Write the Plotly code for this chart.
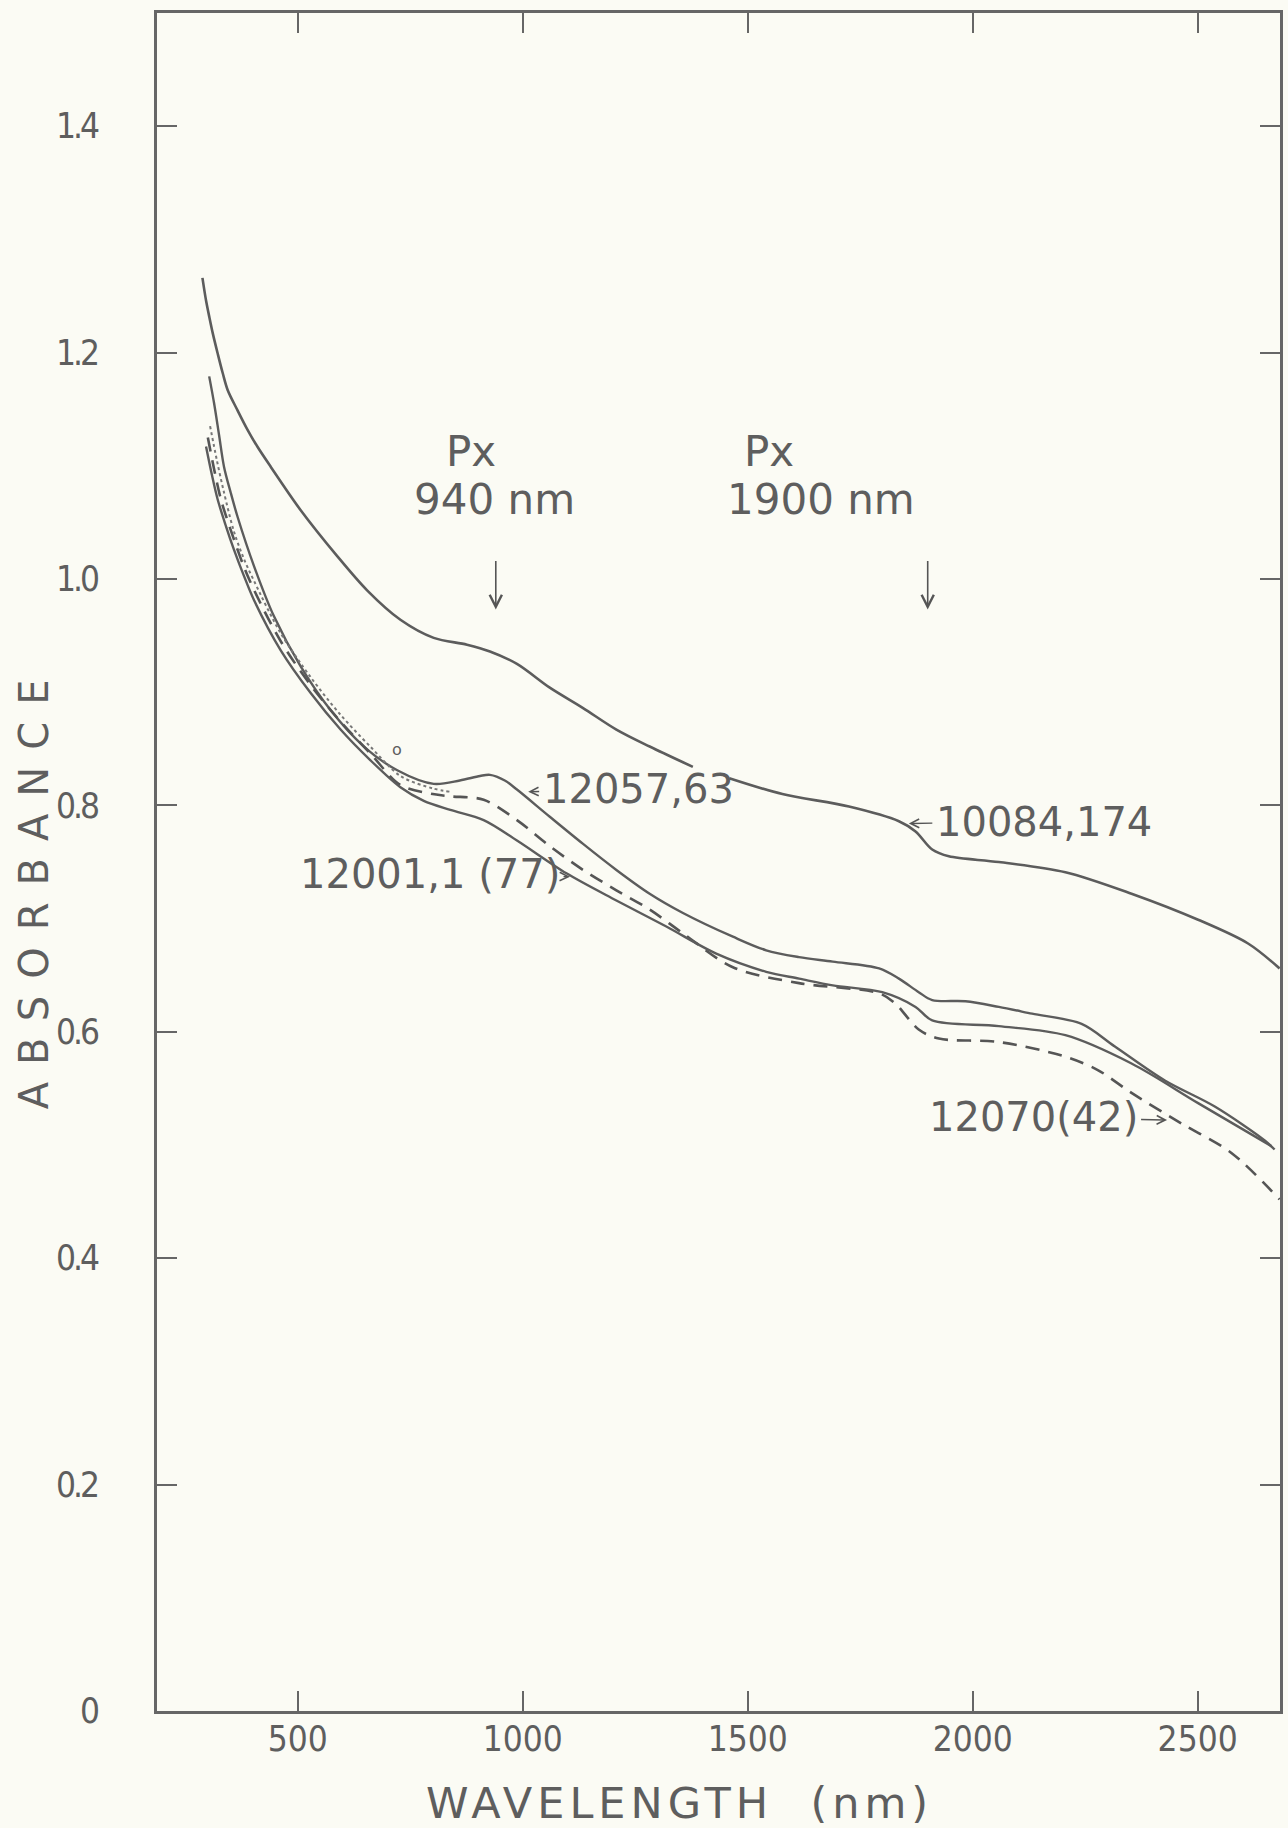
import plotly.graph_objects as go

# ---- data (wavelength nm, absorbance) ----
wl_10084 = [288, 296, 303, 311, 322, 333, 344, 366, 388, 410, 440, 506, 588, 654, 728, 802, 876, 927, 987, 1060,
            1134, 1208, 1282, 1378, None, 1459, 1577, 1725, 1836, 1873, 1910, 1947, 2058, 2206, 2353, 2501,
            2612, 2682]
ab_10084 = [1.266, 1.246, 1.232, 1.217, 1.199, 1.182, 1.167, 1.149, 1.132, 1.117, 1.099, 1.061, 1.020, 0.990,
            0.964, 0.948, 0.942, 0.936, 0.925, 0.904, 0.886, 0.867, 0.852, 0.834, None, 0.824, 0.810, 0.799,
            0.786, 0.777, 0.761, 0.755, 0.750, 0.741, 0.722, 0.699, 0.678, 0.656]

wl_12057 = [303, 314, 325, 336, 351, 366, 403, 447, 506, 573, 647, 721, 802, 860, 905, 927, 960, 987, 1060,
            1134, 1208, 1282, 1356, 1467, 1541, 1614, 1689, 1792, 1836, 1880, 1910, 1984, 2058, 2132, 2242,
            2316, 2427, 2538, 2649, 2671]
ab_12057 = [1.179, 1.155, 1.127, 1.099, 1.076, 1.055, 1.011, 0.967, 0.923, 0.884, 0.852, 0.831, 0.819, 0.822,
            0.826, 0.827, 0.822, 0.814, 0.790, 0.766, 0.743, 0.722, 0.705, 0.684, 0.672, 0.666, 0.662, 0.656,
            0.647, 0.635, 0.628, 0.627, 0.622, 0.616, 0.607, 0.587, 0.557, 0.534, 0.504, 0.496]

wl_12001 = [296, 309, 322, 340, 358, 380, 403, 462, 529, 595, 661, 728, 780, 839, 913, 987, 1097, 1208, 1319,
            1430, 1541, 1614, 1689, 1799, 1873, 1910, 2058, 2206, 2353, 2501, 2664]
ab_12001 = [1.117, 1.092, 1.070, 1.047, 1.026, 1.003, 0.981, 0.937, 0.899, 0.867, 0.840, 0.816, 0.804, 0.796,
            0.787, 0.769, 0.740, 0.716, 0.693, 0.669, 0.653, 0.647, 0.641, 0.635, 0.622, 0.610, 0.605, 0.597,
            0.572, 0.537, 0.499]

wl_12070 = [300, 315, 330, 358, 380, 403, 462, 529, 595, 661, 728, 800, 839, 913, 987, 1060, 1134, 1208, 1282,
            1356, 1467, 1614, 1792, 1828, 1880, 1925, 2058, 2206, 2279, 2353, 2464, 2575, 2682]
ab_12070 = [1.125, 1.095, 1.069, 1.035, 1.011, 0.990, 0.945, 0.906, 0.874, 0.846, 0.818, 0.810, 0.808, 0.805,
            0.787, 0.764, 0.743, 0.725, 0.708, 0.687, 0.657, 0.643, 0.634, 0.625, 0.602, 0.594, 0.591, 0.578,
            0.566, 0.546, 0.519, 0.493, 0.452]

wl_dot = [305, 320, 335, 358, 380, 403, 462, 529, 595, 661, 728, 800, 840]
ab_dot = [1.135, 1.105, 1.078, 1.042, 1.018, 0.998, 0.952, 0.913, 0.880, 0.852, 0.826, 0.815, 0.812]

x_ticks = [500, 1000, 1500, 2000, 2500]
x_tick_text = ["500", "1000", "1500", "2000", "2500"]
y_ticks = [0, 0.2, 0.4, 0.6, 0.8, 1.0, 1.2, 1.4]
y_tick_text = ["0", "0.2", "0.4", "0.6", "0.8", "1.0", "1.2", "1.4"]

LINE = "#5c5c5c"
TEXT = "#5e5e5e"
BG = "#fbfbf4"
FONT = "DejaVu Sans"
NARROW = "DejaVu Sans Condensed, Liberation Sans"

fig = go.Figure()
spl = dict(shape="spline", smoothing=0.9)
fig.add_trace(go.Scatter(x=wl_10084, y=ab_10084, mode="lines", name="10084,174",
                         line=dict(color=LINE, width=2.6, **spl), connectgaps=False))
fig.add_trace(go.Scatter(x=wl_12057, y=ab_12057, mode="lines", name="12057,63",
                         line=dict(color=LINE, width=2.4, **spl)))
fig.add_trace(go.Scatter(x=wl_dot, y=ab_dot, mode="lines", name="dotted",
                         line=dict(color="#777777", width=2, dash="dot", **spl)))
fig.add_trace(go.Scatter(x=wl_12070, y=ab_12070, mode="lines", name="12070(42)",
                         line=dict(color="#555555", width=2.6, dash="14px,9px", **spl)))
fig.add_trace(go.Scatter(x=wl_12001, y=ab_12001, mode="lines", name="12001,1 (77)",
                         line=dict(color=LINE, width=2.4, **spl)))

axis_common = dict(showline=True, linecolor="#666666", linewidth=3, mirror="ticks",
                   ticks="inside", ticklen=20, tickwidth=2, tickcolor="#666666",
                   showgrid=False, zeroline=False)

fig.update_xaxes(range=[187, 2683], tickvals=x_ticks, ticktext=x_tick_text,
                 tickfont=dict(family=NARROW, size=35, color=TEXT), ticklabelstandoff=-5, **axis_common)
fig.update_yaxes(range=[0, 1.5], tickvals=y_ticks,
                 ticktext=['<span style="letter-spacing:-3px">%s</span>' % t for t in y_tick_text],
                 tickfont=dict(family=NARROW, size=35, color=TEXT), ticklabelstandoff=50, **axis_common)

ann = []
# axis titles
ann.append(dict(xref="paper", yref="paper", x=0.465, y=-0.0542, xanchor="center", yanchor="middle",
                showarrow=False, text='<span style="letter-spacing:5px">WAVELENGTH  (nm)</span>',
                font=dict(family=FONT, size=43, color=TEXT)))
ann.append(dict(xref="paper", yref="paper", x=-0.110, y=0.486, xanchor="center", yanchor="middle",
                showarrow=False, textangle=-90,
                text='<span style="letter-spacing:17px">ABSORBANCE</span>',
                font=dict(family=FONT, size=40, color=TEXT)))
# Px labels
for tx, xx, yy in [("Px", 885, 1.113), ("940 nm", 938, 1.070), ("Px", 1548, 1.113), ("1900 nm", 1663, 1.070)]:
    ann.append(dict(x=xx, y=yy, text=tx, showarrow=False, font=dict(family=FONT, size=42, color=TEXT)))
# down arrows
for xx in [940, 1900]:
    ann.append(dict(x=xx, y=0.973, ax=0, ay=-50, text="", showarrow=True, arrowhead=5,
                    arrowsize=1.5, arrowwidth=1.6, arrowcolor="#555555"))
# curve labels with small arrows
for tx, xx, yy, axx, ayy in [("12057,63", 1012, 0.812, 110, -3),
                             ("10084,174", 1858, 0.784, 135, -2),
                             ("12001,1 (77)", 1105, 0.737, -140, -3),
                             ("12070(42)", 2432, 0.522, -134, -3)]:
    ann.append(dict(x=xx, y=yy, ax=axx, ay=ayy, text=tx, showarrow=True, arrowhead=5, arrowsize=1.2,
                    arrowwidth=1.4, arrowcolor="#555555", standoff=0, startstandoff=2,
                    font=dict(family=FONT, size=40, color=TEXT)))
# small circle mark near the lower curves
ann.append(dict(x=720, y=0.849, text="o", showarrow=False, font=dict(family=FONT, size=16, color=TEXT)))

fig.update_layout(width=1288, height=1828, margin=dict(l=157, r=5, t=13, b=117),
                  paper_bgcolor=BG, plot_bgcolor=BG, showlegend=False, annotations=ann)

fig.write_html("out.html", config={"displayModeBar": False},
               post_script="document.body.style.margin='0';document.body.style.padding='0';")
